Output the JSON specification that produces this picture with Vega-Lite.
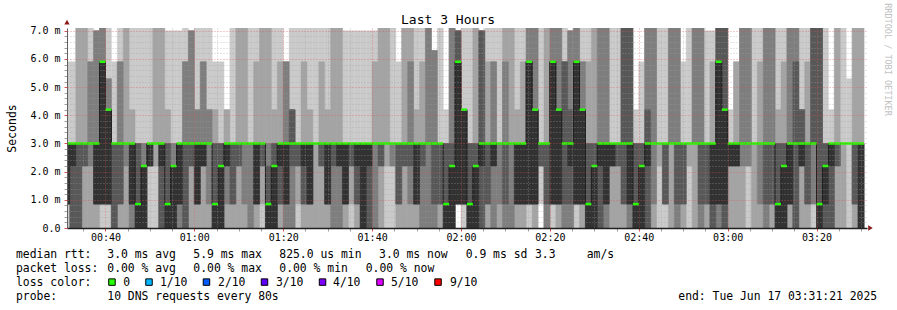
{
  "$schema": "https://vega.github.io/schema/vega-lite/v6.json",
  "width": 800,
  "height": 200,
  "autosize": {"type": "none"},
  "padding": {"left": 67, "top": 28, "right": 30, "bottom": 82},
  "background": "#ffffff",
  "config": {"view": {"stroke": null}, "font": "DejaVu Sans Mono"},
  "title": {"text": "Last 3 Hours", "font": "DejaVu Sans Mono", "fontSize": 13, "fontWeight": "normal", "color": "#000000", "anchor": "middle", "dx": -19, "offset": 3, "baseline": "alphabetic", "dy": 37},
  "datasets": {
    "smoke": [
      {"s":1840,"e":1920,"m":3,"p":[0,0.85,0.85,0.85,0.85,3,3,3,3,5.9]},
      {"s":1920,"e":2000,"m":3,"p":[0,0,0,0,2.2,3,3,3,3,5.9]},
      {"s":2000,"e":2080,"m":3,"p":[0,0,0,0,3,3,3,3,7.1,7.1]},
      {"s":2080,"e":2160,"m":3,"p":[0,0,2.2,2.2,3,3,3,3,7.1,7.1]},
      {"s":2160,"e":2240,"m":3,"p":[0,0,2.2,3,3,3,3,5.9,5.9,7.1]},
      {"s":2240,"e":2320,"m":3,"p":[0,0,0.85,0.85,0.85,3,3,7,7,7]},
      {"s":2320,"e":2400,"m":5.9,"p":[0,0.85,0.85,0.85,0.85,5.9,5.9,7.1,7.1,7.1]},
      {"s":2400,"e":2480,"m":4.2,"p":[0,0.85,0.85,0.85,0.85,4.2,4.2,5.3,5.3,7.1]},
      {"s":2480,"e":2560,"m":3,"p":[0,0,0,0,3,3,3,3,3,5.9]},
      {"s":2560,"e":2640,"m":3,"p":[0,0,0.85,0.85,3,3,3,5.9,5.9,7.1]},
      {"s":2640,"e":2720,"m":3,"p":[0,0,2.2,3,3,3,3,3,7.1,7.1]},
      {"s":2720,"e":2800,"m":3,"p":[0,0,0,0.85,0.85,3,3,3,4.2,7.1]},
      {"s":2800,"e":2880,"m":0.85,"p":[0,0,0,0,0,0.85,3,3,3,7.1]},
      {"s":2880,"e":2960,"m":2.2,"p":[0,0,0,0,0,2.2,2.2,3,3,7.1]},
      {"s":2960,"e":3040,"m":3,"p":[0,2.2,2.2,2.2,2.2,3,3,3,3,7.1]},
      {"s":3040,"e":3120,"m":3,"p":[0,2.2,3,3,3,3,3,3,7.1,7.1]},
      {"s":3120,"e":3200,"m":3,"p":[0,0,0,0,2.2,3,3,3,7.1,7.1]},
      {"s":3200,"e":3280,"m":0.85,"p":[0,0,0,0,0,0.85,3,3,4.2,7]},
      {"s":3280,"e":3360,"m":2.2,"p":[0,0,0,0,0,2.2,2.2,3,3,7]},
      {"s":3360,"e":3440,"m":3,"p":[0,0,0,0.85,0.85,3,3,3,3,7]},
      {"s":3440,"e":3520,"m":3,"p":[0,0,0,0,3,3,3,5.9,5.9,7.1]},
      {"s":3520,"e":3600,"m":3,"p":[0,0,2.2,2.2,3,3,3,7,7,7]},
      {"s":3600,"e":3680,"m":3,"p":[0,0,0.85,0.85,0.85,3,3,4.2,4.2,7.1]},
      {"s":3680,"e":3760,"m":3,"p":[0,0,2.2,2.2,2.2,3,3,5.9,5.9,7.1]},
      {"s":3760,"e":3840,"m":3,"p":[0,0,0.85,3,3,3,3,4.2,4.2,7.1]},
      {"s":3840,"e":3920,"m":0.85,"p":[0,0,0,0,0,0.85,3,3,4.2,5.9]},
      {"s":3920,"e":4000,"m":2.2,"p":[0,0,0,0,0,2.2,3,3,3,5.9]},
      {"s":4000,"e":4080,"m":3,"p":[0,0,0.85,2.2,2.2,3,3,3,4.2,4.2]},
      {"s":4080,"e":4160,"m":3,"p":[0,0,0.85,0.85,3,3,3,3,3,7.1]},
      {"s":4160,"e":4240,"m":3,"p":[0,0,2.2,2.2,3,3,3,3,7.1,7.1]},
      {"s":4240,"e":4320,"m":3,"p":[0,0,0.85,3,3,3,3,3,7.1,7.1]},
      {"s":4320,"e":4400,"m":3,"p":[0,0,0,3,3,3,3,3,3,7.1]},
      {"s":4400,"e":4480,"m":3,"p":[0,0,0.85,0.85,0.85,3,3,3,5.9,7.1]},
      {"s":4480,"e":4560,"m":3,"p":[0,0.85,2.2,2.2,3,3,3,3,7.1,7.1]},
      {"s":4560,"e":4640,"m":0.85,"p":[0,0,0,0,0,0.85,2.2,3,7.1,7.1]},
      {"s":4640,"e":4720,"m":2.2,"p":[0,0,0,0,0,2.2,3,3,4.2,7.1]},
      {"s":4720,"e":4800,"m":3,"p":[0,0,0.85,0.85,2.2,3,3,3,5.9,7.1]},
      {"s":4800,"e":4880,"m":3,"p":[0,0,0,0.85,0.85,3,3,5.9,5.9,5.9]},
      {"s":4880,"e":4960,"m":3,"p":[0,0,0,2.2,3,3,4.2,4.2,4.2,7.1]},
      {"s":4960,"e":5040,"m":3,"p":[0,0.85,2.2,2.2,3,3,3,3,3,7.1]},
      {"s":5040,"e":5120,"m":3,"p":[0,0,0.85,0.85,2.2,3,3,3,5.9,7.1]},
      {"s":5120,"e":5200,"m":3,"p":[0,0,0.85,0.85,0.85,3,3,3,4.2,7.1]},
      {"s":5200,"e":5280,"m":3,"p":[0,0,3,3,3,3,3,3,3,7.1]},
      {"s":5280,"e":5360,"m":3,"p":[0,0,2.2,2.2,3,3,3,3,5.9,7.1]},
      {"s":5360,"e":5440,"m":3,"p":[0,0,0.85,0.85,0.85,3,3,3,4.2,7.1]},
      {"s":5440,"e":5520,"m":3,"p":[0,0,0,2.2,3,3,3,3,7.1,7.1]},
      {"s":5520,"e":5600,"m":3,"p":[0,0,0,2.2,2.2,3,3,3,7.1,7.1]},
      {"s":5600,"e":5680,"m":3,"p":[0,0,0.85,0.85,0.85,3,3,3,3,7]},
      {"s":5680,"e":5760,"m":3,"p":[0,0.85,2.2,2.2,3,3,3,3,3,7]},
      {"s":5760,"e":5840,"m":3,"p":[0,0,0.85,0.85,2.2,3,3,3,3,7]},
      {"s":5840,"e":5920,"m":3,"p":[0,0,0,0,0,3,3,3,3,7]},
      {"s":5920,"e":6000,"m":3,"p":[0,0,0,0,2.2,3,3,3,3,7]},
      {"s":6000,"e":6080,"m":3,"p":[0,0,0,3,3,3,3,3,5.9,7]},
      {"s":6080,"e":6160,"m":3,"p":[0,0,2.2,2.2,3,3,3,3,7.1,7.1]},
      {"s":6160,"e":6240,"m":3,"p":[0,2.2,3,3,3,3,3,3,7.1,7.1]},
      {"s":6240,"e":6320,"m":3,"p":[0,2.2,2.2,3,3,3,3,3,3,7.1]},
      {"s":6320,"e":6400,"m":3,"p":[0,0,0.85,0.85,3,3,3,3,3,5.9]},
      {"s":6400,"e":6480,"m":3,"p":[0,0,2.2,2.2,3,3,3,3,7.1,7.1]},
      {"s":6480,"e":6560,"m":3,"p":[0,0,0.85,2.2,3,3,3,5.9,7.1,7.1]},
      {"s":6560,"e":6640,"m":3,"p":[0,0,0.85,0.85,0.85,3,3,3,4.2,7.1]},
      {"s":6640,"e":6720,"m":3,"p":[0,0,0,2.2,3,3,3,3,5.9,7.1]},
      {"s":6720,"e":6800,"m":3,"p":[0,0,0,3,3,3,3,7.1,7.1,7.1]},
      {"s":6800,"e":6880,"m":3,"p":[0,0,0,0.85,3,3,3,6.3,6.3,6.3]},
      {"s":6880,"e":6960,"m":3,"p":[0,0,0.85,0.85,3,3,3,3,3,7.1]},
      {"s":6960,"e":7040,"m":0.85,"p":[0,0,0,0,0,0.85,3,3,3,4.2]},
      {"s":7040,"e":7120,"m":2.2,"p":[0,0,0,0,0,2.2,3,7.1,7.1,7.1]},
      {"s":7120,"e":7200,"m":5.9,"p":[0.85,0.85,0.85,0.85,0.85,5.9,7,7,7,7]},
      {"s":7200,"e":7280,"m":4.2,"p":[0,0.85,0.85,0.85,0.85,4.2,4.2,4.2,4.2,7.1]},
      {"s":7280,"e":7360,"m":0.85,"p":[0,0,0,0,0,0.85,3,3,3,7.1]},
      {"s":7360,"e":7440,"m":2.2,"p":[0,0,0,0,0,2.2,3,3,7.1,7.1]},
      {"s":7440,"e":7520,"m":3,"p":[0,0,0,0,2.2,3,7,7,7,7]},
      {"s":7520,"e":7600,"m":3,"p":[0,0,0.85,0.85,3,3,3,3,5.9,7.1]},
      {"s":7600,"e":7680,"m":3,"p":[0,0,0,2.2,2.2,3,3,5.9,5.9,7.1]},
      {"s":7680,"e":7760,"m":3,"p":[0,0,0.85,3,3,3,3,3,3,7.1]},
      {"s":7760,"e":7840,"m":3,"p":[0,0,0,0.85,3,3,3,5.9,7.1,7.1]},
      {"s":7840,"e":7920,"m":3,"p":[0,0,0,3,3,3,3,3,7.1,7.1]},
      {"s":7920,"e":8000,"m":3,"p":[0,0,0.85,0.85,0.85,3,3,3,4.2,7.1]},
      {"s":8000,"e":8080,"m":3,"p":[0,0,0.85,0.85,0.85,3,3,3,5.9,7.1]},
      {"s":8080,"e":8160,"m":5.9,"p":[0,0.85,0.85,0.85,0.85,5.9,5.9,7.1,7.1,7.1]},
      {"s":8160,"e":8240,"m":4.2,"p":[0,0,0.85,0.85,0.85,4.2,4.2,7.1,7.1,7.1]},
      {"s":8240,"e":8320,"m":3,"p":[0.85,2.2,2.2,2.2,3,3,3,3,3,7.1]},
      {"s":8320,"e":8400,"m":3,"p":[0,0,0,0.85,3,3,3,3,7.1,7.1]},
      {"s":8400,"e":8480,"m":5.9,"p":[0,0.85,0.85,0.85,0.85,5.9,5.9,7.1,7.1,7.1]},
      {"s":8480,"e":8560,"m":4.2,"p":[0,0,0.85,0.85,0.85,4.2,4.2,7.1,7.1,7.1]},
      {"s":8560,"e":8640,"m":3,"p":[0,0,0,0.85,3,3,5.9,5.9,5.9,7.1]},
      {"s":8640,"e":8720,"m":3,"p":[0,0,0,0.85,2.2,3,4.2,7,7,7]},
      {"s":8720,"e":8800,"m":5.9,"p":[0,0.85,0.85,0.85,0.85,5.9,5.9,7.1,7.1,7.1]},
      {"s":8800,"e":8880,"m":4.2,"p":[0,0,0.85,0.85,0.85,4.2,4.2,5.9,5.9,7.1]},
      {"s":8880,"e":8960,"m":0.85,"p":[0,0,0,0,0,0.85,3,3,5.9,7.1]},
      {"s":8960,"e":9040,"m":2.2,"p":[0,0,0,0,0,2.2,3,3,7.1,7.1]},
      {"s":9040,"e":9120,"m":3,"p":[0,0,0,0,2.2,3,3,7.1,7.1,7.1]},
      {"s":9120,"e":9200,"m":3,"p":[0,0,0,0.85,0.85,3,3,7.1,7.1,7.1]},
      {"s":9200,"e":9280,"m":3,"p":[0,0,2.2,2.2,2.2,3,3,3,3,7.1]},
      {"s":9280,"e":9360,"m":3,"p":[0,0,2.2,2.2,3,3,3,3,3,7.1]},
      {"s":9360,"e":9440,"m":3,"p":[0,0,0.85,0.85,3,3,7.1,7.1,7.1,7.1]},
      {"s":9440,"e":9520,"m":3,"p":[0,0,0,0.85,0.85,3,7.1,7.1,7.1,7.1]},
      {"s":9520,"e":9600,"m":0.85,"p":[0,0,0,0,0,0.85,3,3,3,4.2]},
      {"s":9600,"e":9680,"m":2.2,"p":[0,0,0,0,0,2.2,3,3,3,5.9]},
      {"s":9680,"e":9760,"m":3,"p":[0,0,0,0,2.2,3,4.2,7.1,7.1,7.1]},
      {"s":9760,"e":9840,"m":3,"p":[0,0,0.85,3,3,3,3,7.1,7.1,7.1]},
      {"s":9840,"e":9920,"m":3,"p":[0,2.2,3,3,3,3,3,3,3,7.1]},
      {"s":9920,"e":10000,"m":3,"p":[0,0.85,0.85,0.85,3,3,3,3,3,7.1]},
      {"s":10000,"e":10080,"m":3,"p":[0,0,3,3,3,3,3,7.1,7.1,7.1]},
      {"s":10080,"e":10160,"m":3,"p":[0,0,0,0.85,3,3,3,7.1,7.1,7.1]},
      {"s":10160,"e":10240,"m":3,"p":[0,0,0.85,0.85,3,3,3,3,3,5.9]},
      {"s":10240,"e":10320,"m":3,"p":[0,2.2,3,3,3,3,3,3,3,7.1]},
      {"s":10320,"e":10400,"m":3,"p":[0,0,3,3,3,3,3,7.1,7.1,7.1]},
      {"s":10400,"e":10480,"m":3,"p":[0,0,0,0.85,3,3,3,7.1,7.1,7.1]},
      {"s":10480,"e":10560,"m":3,"p":[0,0,0.85,0.85,3,3,3,3,3,7]},
      {"s":10560,"e":10640,"m":3,"p":[0,0,0,0,0.85,3,3,3,5.9,7]},
      {"s":10640,"e":10720,"m":5.9,"p":[0,0,0,0.85,0.85,5.9,7.1,7.1,7.1,7.1]},
      {"s":10720,"e":10800,"m":4.2,"p":[0,0,0,0,0.85,4.2,7.1,7.1,7.1,7.1]},
      {"s":10800,"e":10880,"m":3,"p":[0,0,2.2,2.2,2.2,3,3,3,3,4.2]},
      {"s":10880,"e":10960,"m":3,"p":[0,0,2.2,2.2,2.2,3,3,3,5.9,5.9]},
      {"s":10960,"e":11040,"m":3,"p":[0,0,2.2,3,3,3,3,7.1,7.1,7.1]},
      {"s":11040,"e":11120,"m":3,"p":[0,2.2,2.2,3,3,3,3,7.1,7.1,7.1]},
      {"s":11120,"e":11200,"m":3,"p":[0,0,3,3,3,3,3,3,3,7.1]},
      {"s":11200,"e":11280,"m":3,"p":[0,0,0.85,3,3,3,3,3,5.9,7.1]},
      {"s":11280,"e":11360,"m":3,"p":[0,0,0,0.85,3,3,3,7.1,7.1,7.1]},
      {"s":11360,"e":11440,"m":3,"p":[0,0,0.85,0.85,3,3,3,7.1,7.1,7.1]},
      {"s":11440,"e":11520,"m":0.85,"p":[0,0,0,0,0,0.85,3,3,4.2,7.1]},
      {"s":11520,"e":11600,"m":2.2,"p":[0,0,0,0,0,2.2,3,3,5.9,7.1]},
      {"s":11600,"e":11680,"m":3,"p":[0,0,0.85,0.85,0.85,3,3,7.1,7.1,7.1]},
      {"s":11680,"e":11760,"m":3,"p":[0,0,0,0,3,3,5.9,7.1,7.1,7.1]},
      {"s":11760,"e":11840,"m":3,"p":[0,0,2.2,2.2,2.2,3,4.2,4.2,4.2,7.1]},
      {"s":11840,"e":11920,"m":3,"p":[0,0,0.85,0.85,3,3,3,3,5.9,7.1]},
      {"s":11920,"e":12000,"m":3,"p":[0,0.85,0.85,3,3,3,7.1,7.1,7.1,7.1]},
      {"s":12000,"e":12080,"m":0.85,"p":[0,0,0,0,0,0.85,7.1,7.1,7.1,7.1]},
      {"s":12080,"e":12160,"m":2.2,"p":[0,0,0,0,0.85,2.2,3,3,3,7.1]},
      {"s":12160,"e":12240,"m":3,"p":[0,0,0,0,2.2,3,3,3,3,4.2]},
      {"s":12240,"e":12320,"m":3,"p":[0,0,2.2,2.2,3,3,3,3,7.1,7.1]},
      {"s":12320,"e":12400,"m":3,"p":[0,0,3,3,3,3,3,3,3,7.1]},
      {"s":12400,"e":12480,"m":3,"p":[0,3,3,3,3,3,3,3,3,5.3]},
      {"s":12480,"e":12560,"m":3,"p":[0,0,0.85,0.85,3,3,3,3,7.1,7.1]},
      {"s":12560,"e":12640,"m":3,"p":[0,0,0,0,0,3,3,3,7.1,7.1]}
    ],
    "arrows": [
      {"ax": 1881, "ay": 7.31, "shape": "triangle-up"},
      {"ax": 12728, "ay": 0, "shape": "triangle-right"}
    ],
    "legend": [
      {"line":0,"col":0,"text":"median rtt:"},
      {"line":0,"col":13.04,"text":"3.0 ms avg"},
      {"line":0,"col":25.33,"text":"5.9 ms max"},
      {"line":0,"col":37.61,"text":"825.0 us min"},
      {"line":0,"col":51.86,"text":"3.0 ms now"},
      {"line":0,"col":64.24,"text":"0.9 ms sd"},
      {"line":0,"col":74.14,"text":"3.3"},
      {"line":0,"col":81.53,"text":"am/s"},
      {"line":1,"col":0,"text":"packet loss:"},
      {"line":1,"col":13.04,"text":"0.00 % avg"},
      {"line":1,"col":25.33,"text":"0.00 % max"},
      {"line":1,"col":37.61,"text":"0.00 % min"},
      {"line":1,"col":49.96,"text":"0.00 % now"},
      {"line":2,"col":0,"text":"loss color:"},
      {"line":2,"col":15.33,"text":"0"},
      {"line":2,"col":20.57,"text":"1/10"},
      {"line":2,"col":28.86,"text":"2/10"},
      {"line":2,"col":37.14,"text":"3/10"},
      {"line":2,"col":45.29,"text":"4/10"},
      {"line":2,"col":53.57,"text":"5/10"},
      {"line":2,"col":62.0,"text":"9/10"},
      {"line":3,"col":0,"text":"probe:"},
      {"line":3,"col":13.04,"text":"10 DNS requests every 80s"},
      {"line":3,"col":94.61,"text":"end: Tue Jun 17 03:31:21 2025"}
    ],
    "swatch": [
      {"line":2,"col":13.71,"hex":"#26ff00"},
      {"line":2,"col":19.0,"hex":"#00b8ff"},
      {"line":2,"col":27.21,"hex":"#0059ff"},
      {"line":2,"col":35.5,"hex":"#5e00ff"},
      {"line":2,"col":43.79,"hex":"#7e00ff"},
      {"line":2,"col":52.0,"hex":"#dd00ff"},
      {"line":2,"col":60.29,"hex":"#ff0000"}
    ]
  },
  "resolve": {"scale": {"x": "independent", "y": "independent"}},
  "layer": [
    {
      "data": {"name": "smoke"},
      "encoding": {
        "x": {"field": "s", "type": "quantitative", "scale": {"domain": [1881, 12681], "nice": false, "zero": false},
          "axis": {"title": null, "zindex": 1,
            "values": [2100,2400,2700,3000,3300,3600,3900,4200,4500,4800,5100,5400,5700,6000,6300,6600,6900,7200,7500,7800,8100,8400,8700,9000,9300,9600,9900,10200,10500,10800,11100,11400,11700,12000,12300,12600],
            "labelExpr": "datum.value % 1200 == 0 ? format(floor(datum.value/3600), '02d') + ':' + format(floor((datum.value % 3600)/60), '02d') : ''",
            "labelOverlap": false, "labelFlush": false, "labelFont": "DejaVu Sans Mono", "labelFontSize": 10, "labelColor": "#000000", "labelPadding": 1,
            "grid": true,
            "gridColor": {"condition": {"test": "datum.value % 1200 == 0", "value": "#e05050"}, "value": "#a0a0a0"},
            "gridOpacity": {"condition": {"test": "datum.value % 1200 == 0", "value": 0.6}, "value": 0.55},
            "gridDash": [1, 2], "gridWidth": 1,
            "ticks": true, "tickSize": 3,
            "tickColor": {"condition": {"test": "datum.value % 1200 == 0", "value": "#e05050"}, "value": "#a0a0a0"},
            "domain": true, "domainColor": "#202020", "domainWidth": 1.5}},
        "y": {"field": "p[0]", "type": "quantitative", "scale": {"domain": [0, 7.1], "nice": false, "zero": true},
          "axis": {"title": "Seconds", "titleFont": "DejaVu Sans Mono", "titleFontSize": 11.5, "titleFontWeight": "normal", "titleColor": "#000000", "titlePadding": 12,
            "zindex": 1,
            "values": [0,0.2,0.4,0.6,0.8,1,1.2,1.4,1.6,1.8,2,2.2,2.4,2.6,2.8,3,3.2,3.4,3.6,3.8,4,4.2,4.4,4.6,4.8,5,5.2,5.4,5.6,5.8,6,6.2,6.4,6.6,6.8,7],
            "labelExpr": "abs(datum.value - round(datum.value)) < 0.001 ? (datum.value == 0 ? '0.0' : format(datum.value, '.1f') + ' m') : ''",
            "labelOverlap": false, "labelFlush": false, "labelFont": "DejaVu Sans Mono", "labelFontSize": 10, "labelColor": "#000000", "labelPadding": 4,
            "grid": true,
            "gridColor": {"condition": {"test": "abs(datum.value - round(datum.value)) < 0.001", "value": "#e05050"}, "value": "#a0a0a0"},
            "gridOpacity": {"condition": {"test": "abs(datum.value - round(datum.value)) < 0.001", "value": 0.6}, "value": 0.55},
            "gridDash": [1, 2], "gridWidth": 1,
            "ticks": true, "tickSize": 3,
            "tickColor": {"condition": {"test": "abs(datum.value - round(datum.value)) < 0.001", "value": "#e05050"}, "value": "#a0a0a0"},
            "domain": true, "domainColor": "#606060", "domainWidth": 1}}
      },
      "layer": [
        {"mark": {"type": "rect", "color": "#cacaca", "stroke": "#cacaca", "strokeWidth": 0.5, "clip": true},
          "encoding": {"x2": {"field": "e"}, "y2": {"field": "p[9]"}}},
        {"mark": {"type": "rect", "color": "#a4a4a4", "stroke": "#a4a4a4", "strokeWidth": 0.5, "clip": true},
          "encoding": {"x2": {"field": "e"}, "y": {"field": "p[1]", "type": "quantitative"}, "y2": {"field": "p[8]"}}},
        {"mark": {"type": "rect", "color": "#7e7e7e", "stroke": "#7e7e7e", "strokeWidth": 0.5, "clip": true},
          "encoding": {"x2": {"field": "e"}, "y": {"field": "p[2]", "type": "quantitative"}, "y2": {"field": "p[7]"}}},
        {"mark": {"type": "rect", "color": "#585858", "stroke": "#585858", "strokeWidth": 0.5, "clip": true},
          "encoding": {"x2": {"field": "e"}, "y": {"field": "p[3]", "type": "quantitative"}, "y2": {"field": "p[6]"}}},
        {"mark": {"type": "rect", "color": "#323232", "stroke": "#323232", "strokeWidth": 0.5, "clip": true},
          "encoding": {"x2": {"field": "e"}, "y": {"field": "p[4]", "type": "quantitative"}, "y2": {"field": "p[5]"}}},
        {"mark": {"type": "line", "color": "#202020", "strokeWidth": 1, "interpolate": "step-after", "clip": true},
          "encoding": {"y": {"field": "m", "type": "quantitative"}}},
        {"mark": {"type": "rule", "color": "#26ff00", "strokeWidth": 2.5, "clip": true},
          "encoding": {"x2": {"field": "e"}, "y": {"field": "m", "type": "quantitative"}}},
        {"data": {"name": "arrows"},
          "mark": {"type": "point", "filled": true, "size": 28, "color": "#8b1a1a", "opacity": 1, "clip": false},
          "encoding": {"x": {"field": "ax", "type": "quantitative"}, "y": {"field": "ay", "type": "quantitative"}, "shape": {"field": "shape", "type": "nominal", "scale": null}}}
      ]
    },
    {
      "layer": [
        {"data": {"name": "legend"},
          "mark": {"type": "text", "font": "DejaVu Sans Mono", "fontSize": 11.4, "align": "left", "baseline": "alphabetic", "color": "#000000"},
          "encoding": {
            "x": {"field": "col", "type": "quantitative", "scale": {"domain": [0, 100], "range": [-51, 649]}, "axis": null},
            "y": {"field": "line", "type": "quantitative", "scale": {"domain": [0, 3], "range": [230.3, 272]},
              "axis": {"orient": "right", "domain": false, "ticks": false, "labels": false, "grid": false,
                "title": "RRDTOOL / TOBI OETIKER", "titleAngle": 90, "titleX": 20.5, "titleY": 31, "titleAlign": "center", "titleBaseline": "middle",
                "titleColor": "#c0c0c0", "titleFont": "DejaVu Sans Mono", "titleFontSize": 8.5, "titleFontWeight": "normal"}},
            "text": {"field": "text"}}},
        {"data": {"name": "swatch"},
          "mark": {"type": "point", "shape": "square", "filled": true, "size": 42, "stroke": "#000000", "strokeWidth": 1, "opacity": 1, "yOffset": -4},
          "encoding": {
            "x": {"field": "col", "type": "quantitative"},
            "y": {"field": "line", "type": "quantitative"},
            "fill": {"field": "hex", "type": "nominal", "scale": null}}}
      ]
    }
  ]
}
